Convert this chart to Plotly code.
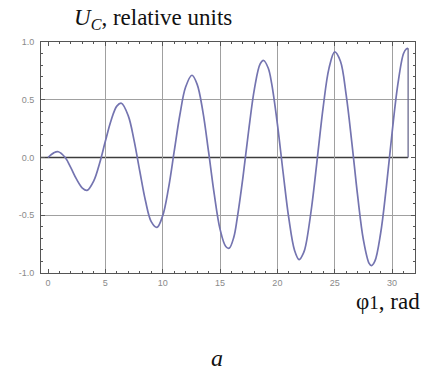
import plotly.graph_objects as go

# phase angle, rad
phi = [0.0, 0.5, 0.9, 1.5, 2.0, 2.5, 3.0, 3.4, 4.0, 4.5,
       5.0, 5.5, 6.0, 6.4, 7.0, 7.5, 8.0, 8.5, 9.0, 9.5,
       10.0, 10.5, 11.0, 11.5, 12.0, 12.55, 13.0, 13.5, 14.0, 14.5,
       15.0, 15.5, 15.8, 16.2, 16.5, 17.0, 17.5, 18.0, 18.5, 18.8,
       19.2, 19.5, 20.0, 20.5, 21.0, 21.5, 21.9, 22.3, 22.5, 23.0,
       23.5, 24.0, 24.5, 25.0, 25.5, 26.0, 26.5, 27.0, 27.5, 28.0,
       28.2, 28.5, 29.0, 29.5, 30.0, 30.5, 31.0, 31.25, 31.4]
# U_C, relative units
uc = [0.000, 0.040, 0.050, 0.000, -0.090, -0.190, -0.265, -0.285, -0.200, -0.050,
      0.140, 0.320, 0.445, 0.470, 0.360, 0.150, -0.117, -0.375, -0.555, -0.605,
      -0.505, -0.270, 0.050, 0.370, 0.610, 0.712, 0.635, 0.400, 0.050, -0.320,
      -0.620, -0.770, -0.785, -0.690, -0.525, -0.170, 0.236, 0.595, 0.810, 0.840,
      0.775, 0.642, 0.292, -0.130, -0.528, -0.805, -0.885, -0.822, -0.748, -0.420,
      0.008, 0.441, 0.772, 0.915, 0.833, 0.540, 0.123, -0.333, -0.712, -0.917,
      -0.936, -0.898, -0.658, -0.256, 0.212, 0.630, 0.900, 0.940, 0.945]
# final drop of the curve at the end of the interval
drop_phi = [31.4, 31.4]
drop_uc = [0.945, 0.0]

x_tickvals = [0, 5, 10, 15, 20, 25, 30]
x_ticktext = ["0", "5", "10", "15", "20", "25", "30"]
x_gridvals = [5, 10, 15, 20, 25, 30]
y_tickvals = [-1.0, -0.5, 0.0, 0.5, 1.0]
y_ticktext = ["-1.0", "-0.5", "0.0", "0.5", "1.0"]
y_gridvals = [-0.5, 0.5]

X_RANGE = [-0.61, 32.0]
Y_RANGE = [-1.0, 1.0]

curve_color = "#7474b0"
frame_color = "#555555"
grid_color = "#a0a0a0"
tick_font = dict(family="Liberation Sans", size=9, color="#8a8a8a")

fig = go.Figure()

# invisible trace to activate the grid axes
fig.add_trace(go.Scatter(x=[X_RANGE[0]], y=[Y_RANGE[0]], xaxis="x2", yaxis="y2",
                         mode="markers", marker=dict(opacity=0), showlegend=False, hoverinfo="skip"))
fig.add_trace(go.Scatter(x=phi, y=uc, mode="lines",
                         line=dict(color=curve_color, width=1.7, shape="spline", smoothing=1.0),
                         showlegend=False, hoverinfo="skip"))
fig.add_trace(go.Scatter(x=drop_phi, y=drop_uc, mode="lines",
                         line=dict(color="#6a6a90", width=1.3),
                         showlegend=False, hoverinfo="skip"))

# zero axis line (Mathematica axis), ending where the data ends
fig.add_shape(type="line", xref="x", yref="y", x0=X_RANGE[0], x1=phi[-1], y0=0, y1=0,
              line=dict(color="#3c3c3c", width=1.3), layer="below")

fig.update_layout(
    width=422, height=372,
    margin=dict(l=41, r=7, t=42, b=99),
    paper_bgcolor="white", plot_bgcolor="white",
    xaxis=dict(range=X_RANGE, tickvals=x_tickvals, ticktext=x_ticktext,
               showgrid=False, zeroline=False,
               showline=True, linecolor=frame_color, linewidth=1, mirror="ticks",
               ticks="inside", ticklen=4, tickcolor=frame_color, tickwidth=1,
               minor=dict(dtick=1, tick0=0, ticks="inside", ticklen=2, tickcolor=frame_color, showgrid=False),
               tickfont=tick_font, ticklabelstandoff=1),
    xaxis2=dict(range=X_RANGE, overlaying="x", tickvals=x_gridvals, showticklabels=False,
                showgrid=True, gridcolor=grid_color, gridwidth=1.3, zeroline=False,
                showline=False, ticks=""),
    yaxis=dict(range=Y_RANGE, tickvals=y_tickvals, ticktext=y_ticktext,
               showgrid=False, zeroline=False,
               showline=True, linecolor=frame_color, linewidth=1, mirror="ticks",
               ticks="inside", ticklen=4, tickcolor=frame_color, tickwidth=1,
               minor=dict(dtick=0.1, tick0=0, ticks="inside", ticklen=2, tickcolor=frame_color, showgrid=False),
               tickfont=tick_font, ticklabelstandoff=4),
    yaxis2=dict(range=Y_RANGE, overlaying="y", tickvals=y_gridvals, showticklabels=False,
                showgrid=True, gridcolor=grid_color, gridwidth=1.3, zeroline=False,
                showline=False, ticks=""),
)

serif = "Liberation Serif"
fig.add_annotation(text="<i>U</i><sub><i>C</i></sub>, relative units",
                   xref="paper", yref="paper", x=(72 - 41) / 374, y=1 + 23 / 231,
                   xanchor="left", yanchor="middle", showarrow=False,
                   font=dict(family=serif, size=23, color="#111111"))
fig.add_annotation(text="φ<span style='font-size:19px'>1</span>, rad",
                   xref="paper", yref="paper", x=1 + 7 / 374, y=-(301 - 273) / 231,
                   xanchor="right", yanchor="middle", showarrow=False,
                   font=dict(family=serif, size=23, color="#111111"))
fig.add_annotation(text="<i>a</i>",
                   xref="paper", yref="paper", x=(217 - 41) / 374, y=-(358 - 273) / 231,
                   xanchor="center", yanchor="middle", showarrow=False,
                   font=dict(family=serif, size=24, color="#111111"))

fig.write_html("out.html")
